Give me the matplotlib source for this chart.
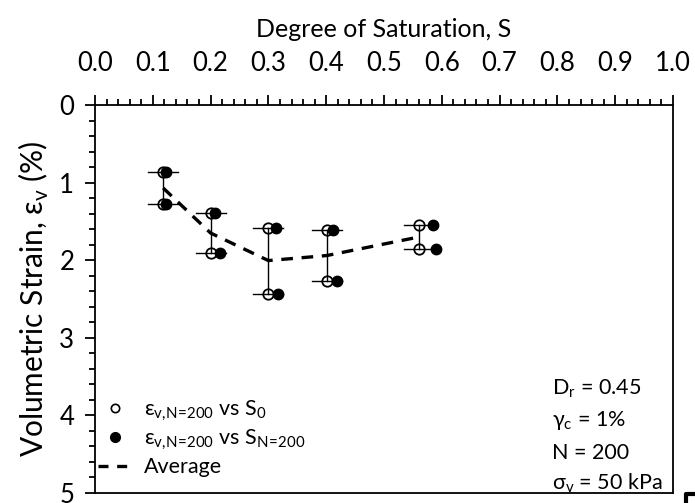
import matplotlib
matplotlib.use("Agg")
import matplotlib.pyplot as plt
from matplotlib.lines import Line2D
from matplotlib.ticker import MultipleLocator
import numpy as np

plt.rcParams['font.family'] = ['Lato', 'Noto Sans', 'DejaVu Sans']
plt.rcParams['mathtext.fontset'] = 'custom'
plt.rcParams['mathtext.rm'] = 'Lato'

# Degree of saturation at the start (S0) and after 200 cycles (S_N=200)
s_initial = [0.118, 0.200, 0.300, 0.401, 0.561]
s_final_upper = [0.122, 0.208, 0.313, 0.412, 0.584]
s_final_lower = [0.122, 0.216, 0.317, 0.419, 0.590]
# Volumetric strain after 200 cycles for the two tests of each group (%)
strain_upper = [0.86, 1.39, 1.58, 1.61, 1.54]
strain_lower = [1.28, 1.91, 2.43, 2.27, 1.86]
# Half-width of the saturation range bar
s_spread = 0.026

x_ticks = [0.0, 0.1, 0.2, 0.3, 0.4, 0.5, 0.6, 0.7, 0.8, 0.9, 1.0]
y_ticks = [0, 1, 2, 3, 4, 5]

s_initial = np.array(s_initial)
strain_upper = np.array(strain_upper)
strain_lower = np.array(strain_lower)
strain_avg = (strain_upper + strain_lower) / 2

fig = plt.figure(figsize=(6.95, 5.03), dpi=100)
ax = fig.add_axes([95 / 695, 1 - 493 / 503, (673 - 95) / 695, (493 - 105) / 503])

# vertical range line for each group
for s, a, b in zip(s_initial, strain_upper, strain_lower):
    ax.plot([s, s], [a, b], color='black', lw=1.0, zorder=2)

# horizontal saturation range bars
for strains in (strain_upper, strain_lower):
    for s, e in zip(s_initial, strains):
        ax.plot([s - s_spread, s + s_spread], [e, e], color='black', lw=1.0, zorder=2)

ms = 7.5
ax.plot(s_initial, strain_upper, 'o', mfc='none', mec='black', mew=1.3, ms=ms, zorder=3)
ax.plot(s_initial, strain_lower, 'o', mfc='none', mec='black', mew=1.3, ms=ms, zorder=3)
ax.plot(s_final_upper, strain_upper, 'o', color='black', ms=ms, zorder=4)
ax.plot(s_final_lower, strain_lower, 'o', color='black', ms=ms, zorder=4)
ax.plot(s_initial, strain_avg, color='black', lw=2.4, dashes=(3.5, 2.6), zorder=5)

ax.set_xlim(0, 1)
ax.set_ylim(5, 0)
ax.xaxis.tick_top()
ax.xaxis.set_label_position('top')
ax.set_xticks(x_ticks)
ax.set_xticklabels([f'{t:.1f}' for t in x_ticks])
ax.set_yticks(y_ticks)
ax.set_yticklabels([str(t) for t in y_ticks])
ax.xaxis.set_minor_locator(MultipleLocator(0.02))
ax.yaxis.set_minor_locator(MultipleLocator(0.2))
ax.tick_params(which='major', direction='out', length=7, width=1.3, labelsize=18.5)
ax.tick_params(axis='x', which='major', pad=14)
ax.tick_params(axis='y', which='major', pad=8)
ax.tick_params(which='minor', direction='out', length=4.5, width=1.3)
ax.tick_params(axis='x', which='both', top=True, bottom=False)
for sp in ax.spines.values():
    sp.set_linewidth(1.3)

ax.set_xlabel('Degree of Saturation, S', fontsize=18, labelpad=10)
ax.set_ylabel('Volumetric Strain, ε$_\\mathregular{v}$ (%)', fontsize=21.5, labelpad=6)

handles = [
    Line2D([], [], ls='none', marker='o', mfc='none', mec='black', mew=1.2, ms=6),
    Line2D([], [], ls='none', marker='o', color='black', ms=7),
    Line2D([], [], color='black', lw=2.4, dashes=(3.0, 2.6)),
]
labels = [
    'ε$_\\mathregular{v{,}N\\!=\\!200}$ vs S$_\\mathregular{0}$',
    'ε$_\\mathregular{v{,}N\\!=\\!200}$ vs S$_\\mathregular{N\\!=\\!200}$',
    'Average',
]
ax.legend(handles, labels, loc='lower left', frameon=False, fontsize=15.5,
          handlelength=1.6, handletextpad=0.55, labelspacing=0.22,
          borderpad=0.2, borderaxespad=0.0, bbox_to_anchor=(-0.003, 0.03))

info = ['D$_\\mathregular{r}$ = 0.45', 'γ$_\\mathregular{c}$ = 1%', 'N = 200', 'σ$_\\mathregular{v}$ = 50 kPa']
info_y = [0.268, 0.186, 0.104, 0.026]
for t, y in zip(info, info_y):
    ax.text(0.79, y, t, transform=ax.transAxes, fontsize=15.5,
            ha='left', va='center')

# corner of the neighbouring panel
fig.add_artist(Line2D([686 / 695, 686 / 695, 1.0], [0.0, 9 / 503, 9 / 503],
                      transform=fig.transFigure, color='black', lw=3))

fig.savefig('out.png', dpi=100)
